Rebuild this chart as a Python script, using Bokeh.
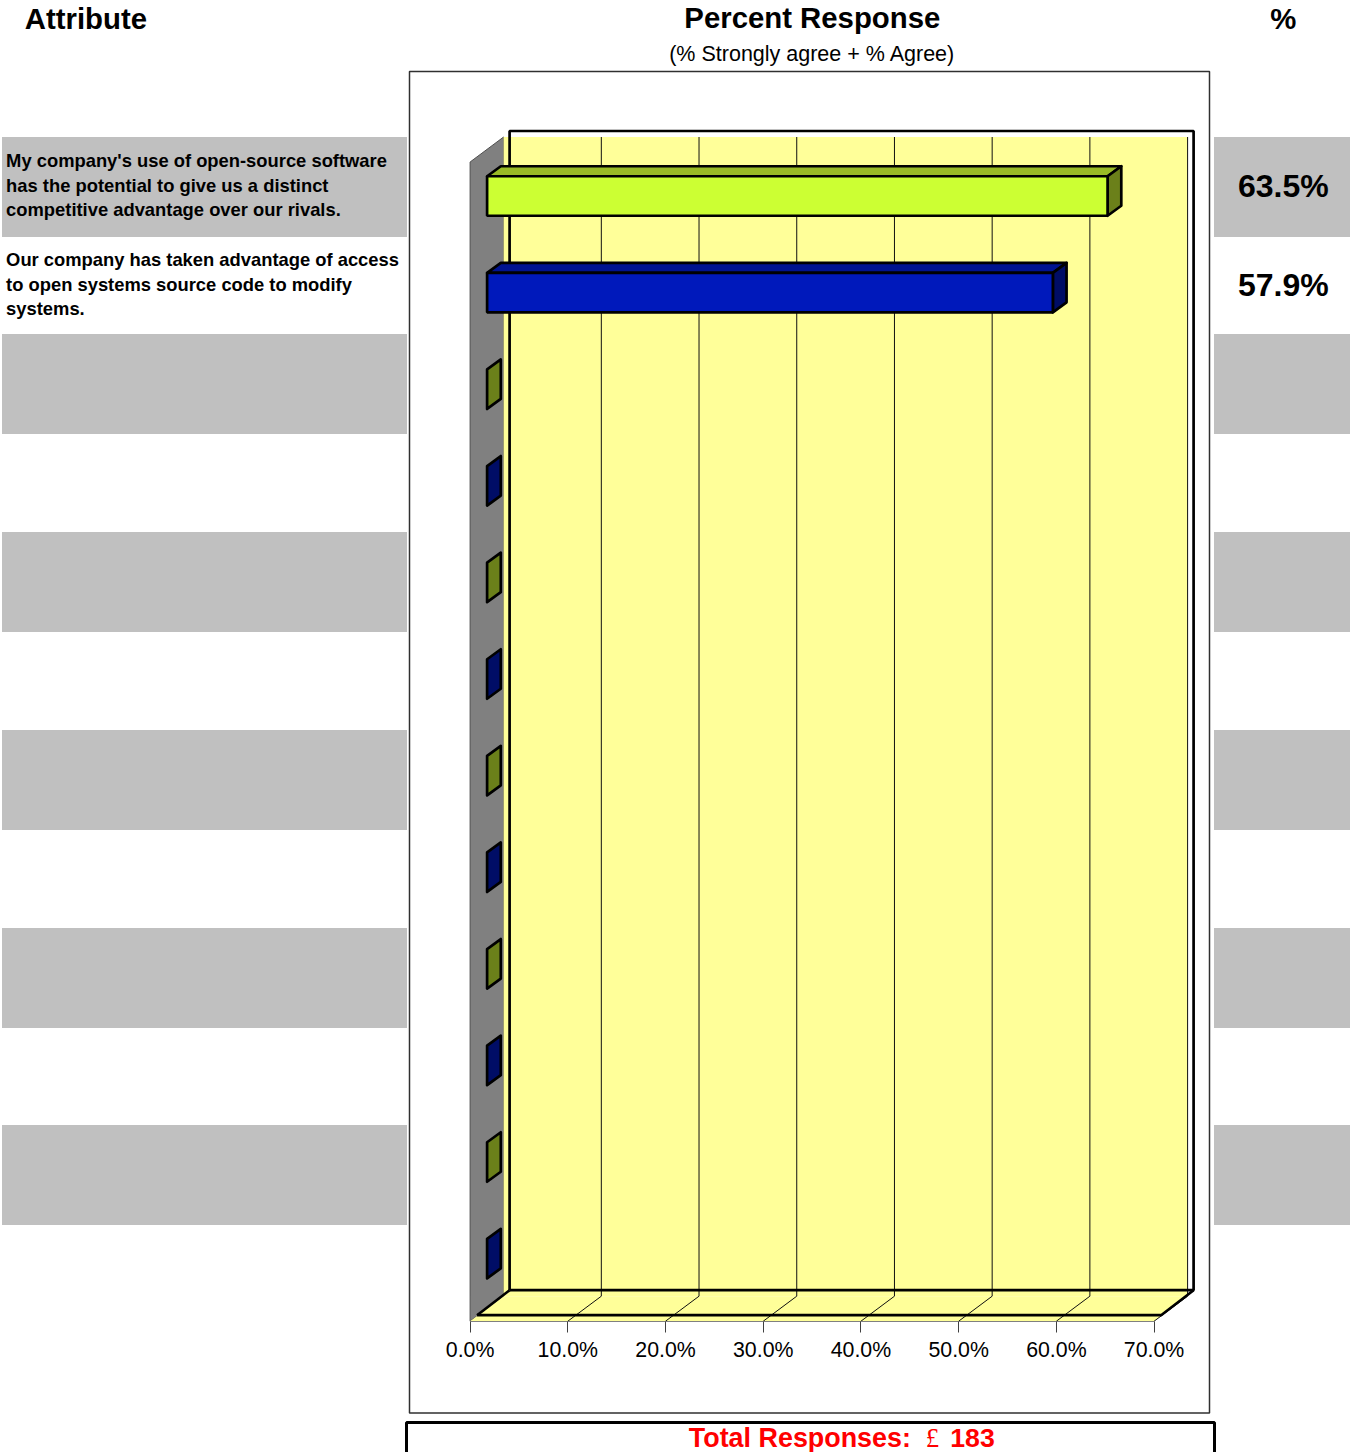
from bokeh.plotting import figure
from bokeh.models import (Range1d, Label, BoxAnnotation, FixedTicker, PrintfTickFormatter, LinearAxis)
from bokeh.embed import file_html
from bokeh.resources import INLINE

W, H = 1354, 1452

# ---- data ----
row_texts = [
    ["My company's use of open-source software", "has the potential to give us a distinct",
     "competitive advantage over our rivals."],
    ["Our company has taken advantage of access", "to open systems source code to modify", "systems."],
]
values = [63.5, 57.9, 0, 0, 0, 0, 0, 0, 0, 0, 0, 0]
shown_values = [63.5, 57.9]
tick_values = [0, 10, 20, 30, 40, 50, 60, 70]
total_responses = 183

FONT = "Liberation Sans"
front_light = ["#CCFF33", "#0019BB"]
top_light = ["#99BB26", "#001390"]
side_dark = ["#6B801A", "#000D66"]

# ---- pixel layout of the plot ----
X0, X70 = 469.6, 1153.6      # front axis
PX = (X70 - X0) / 70.0
Y_FRONT0, Y_STEP = 195.5, 96.6   # centre of bar 0 and bar spacing (canvas px)
F_B = 1320.7

def xd(px):  # px -> percent units
    return px / PX
def yd(px):  # px -> category units
    return px / Y_STEP

p = figure(width=W, height=H, output_backend="svg", toolbar_location=None,
           x_range=Range1d(-X0 / PX, (W - X0) / PX),
           y_range=Range1d((H - Y_FRONT0) / Y_STEP, -Y_FRONT0 / Y_STEP),
           x_axis_location=None, y_axis_location=None,
           min_border_left=0, min_border_right=0, min_border_top=0, min_border_bottom=0,
           outline_line_color=None, background_fill_color="white", border_fill_color="white")
p.styles = {"position": "absolute", "left": "0px", "top": "0px"}
p.grid.visible = False

y_bottom = (F_B - Y_FRONT0) / Y_STEP   # category coordinate of the front floor edge
y_top = (161.5 - Y_FRONT0) / Y_STEP    # top of front wall edge
DX, DY = xd(33.5), yd(25)              # chart depth
FR_X, FR_Y = xd(6), yd(6)              # offset of the black frame

ax = LinearAxis(fixed_location=y_bottom)
ax.bounds = (0, 70)
ax.ticker = FixedTicker(ticks=tick_values)
ax.formatter = PrintfTickFormatter(format="%.1f%%")
ax.major_tick_in = 0
ax.major_tick_out = 11
ax.minor_tick_line_color = None
ax.axis_line_color = "#808080"
ax.major_tick_line_color = "#404040"
ax.major_label_text_font = FONT
ax.major_label_text_font_size = "21.33px"
ax.major_label_text_color = "#000000"
ax.major_label_standoff = 6
p.add_layout(ax, "below")

# side wall, floor, back wall
p.patch([0, 0, DX, DX], [y_bottom, y_top, y_top - DY, y_bottom - DY], fill_color="#808080",
        line_color="#505050", line_width=1)
p.patch([0, 70, 70 + DX, DX], [y_bottom, y_bottom, y_bottom - DY, y_bottom - DY],
        fill_color="#FFFF99", line_color=None)
p.quad(left=DX, right=70 + DX, top=y_top - DY, bottom=y_bottom - DY, fill_color="#FFFF99", line_color=None)

# gridlines
for t in tick_values[1:]:
    p.line([t, t + DX, t + DX], [y_bottom, y_bottom - DY, y_top - DY], line_color="#101010", line_width=1)

# black frame
gx0, gx1 = DX + FR_X, 70 + DX + FR_X
gy0, gy1 = y_bottom - DY - FR_Y, y_top - DY - FR_Y
fx = xd(7)
fy = yd(6)
p.line([gx0, gx0, gx1, gx1, gx0], [gy0, gy1, gy1, gy0, gy0], line_color="black", line_width=2.7)
p.line([fx, 70 + fx, gx1], [y_bottom - fy, y_bottom - fy, gy0], line_color="black", line_width=2.7)
p.line([fx, gx0], [y_bottom - fy, gy0], line_color="black", line_width=2.7)

# bars
BAR_H = yd(39.5) / 2
BX = xd(17)
TX, TY = xd(13.7), yd(10)
for i, v in enumerate(values):
    c = i % 2
    x0, x1 = BX, BX + v
    yt, yb = i - BAR_H, i + BAR_H
    if v > 0:
        p.patch([x0, x0 + TX, x1 + TX, x1], [yt, yt - TY, yt - TY, yt], fill_color=top_light[c],
                line_color="black", line_width=2.7, line_join="round")
    p.patch([x1, x1 + TX, x1 + TX, x1], [yt, yt - TY, yb - TY, yb], fill_color=side_dark[c],
            line_color="black", line_width=2.7, line_join="round")
    if v > 0:
        p.quad(left=x0, right=x1, top=yt, bottom=yb, fill_color=front_light[c],
               line_color="black", line_width=2.7)


def box(l, r, t, b, **kw):
    a = BoxAnnotation(left=l - 0.5, right=r - 0.5, top=t - 0.5, bottom=b - 0.5, left_units="canvas",
                      right_units="canvas", top_units="canvas", bottom_units="canvas", **kw)
    p.add_layout(a)
    return a


def text(s, x, y, size, bold=False, align="left", color="black", font=FONT):
    # y is the wanted baseline; the label anchor sits a fixed share of the size above it
    lab = Label(x=x - 0.7, y=y - 0.37 * size, x_units="canvas", y_units="canvas", text=s, text_font=font,
                text_font_size=f"{size}px", text_font_style="bold" if bold else "normal",
                text_align=align, text_baseline="alphabetic", text_color=color)
    p.add_layout(lab)


# row bands
for top in [137, 334, 532, 730, 928, 1125]:
    box(2, 407, top, top + 100, fill_color="#C0C0C0", fill_alpha=1, line_color=None)
    box(1214, 1350, top, top + 100, fill_color="#C0C0C0", fill_alpha=1, line_color=None)

# chart area box & total box
box(409.5, 1209.5, 71.5, 1413, fill_alpha=0, line_color="#303030", line_width=1.5, line_alpha=1)
box(406.5, 1214.5, 1422.5, 1470, fill_alpha=0, line_color="black", line_width=3, line_alpha=1)

# headers
text("Attribute", 25, 29, 29.33, bold=True)
text("Percent Response", 812.5, 28, 29.33, bold=True, align="center")
text("%", 1283.5, 29, 29.33, bold=True, align="center")
text("(% Strongly agree + % Agree)", 812.5, 61, 21.5, align="center")

# row texts and percentages
for lines, base in zip(row_texts, [167, 266]):
    for k, s in enumerate(lines):
        text(s, 6.3, base + k * 24.6, 18.38, bold=True)
for v, base in zip(shown_values, [197, 296]):
    text(f"{v:.1f}%", 1283.5, base, 32, bold=True, align="center")

# total
text("Total Responses:", 689, 1447, 26.9, bold=True, color="#FF0000")
text("\u00a3", 926, 1447, 26.67, bold=False, color="#FF0000", font="Liberation Serif")
text(str(total_responses), 950.5, 1447, 26.67, bold=True, color="#FF0000")

open("out.html", "w").write(file_html(p, INLINE))
